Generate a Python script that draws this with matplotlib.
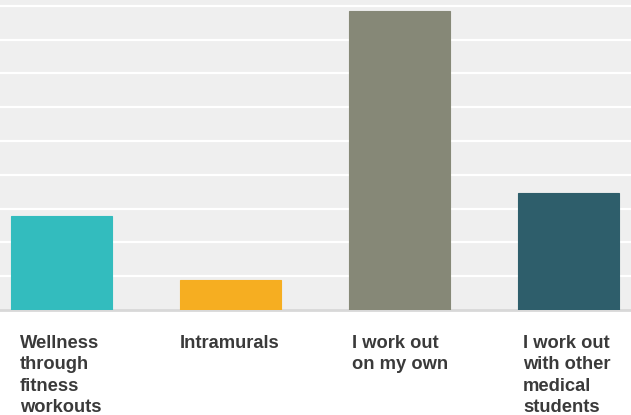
import matplotlib
matplotlib.use("Agg")
import matplotlib.pyplot as plt

categories = ["Wellness\nthrough\nfitness\nworkouts", "Intramurals",
              "I work out\non my own", "I work out\nwith other\nmedical\nstudents"]
values = [13.9, 4.5, 44.2, 17.35]
colors = ["#33BCBE", "#F6AE21", "#868877", "#2E5E6B"]
label_offsets = [-0.25, -0.30, -0.28, -0.27]

fig = plt.figure(figsize=(6.31, 4.15), dpi=100)
fig.patch.set_facecolor("white")
ax = fig.add_axes([0, 105 / 415, 1, 310 / 415])
ax.set_facecolor("#efefef")

x = list(range(len(categories)))
ax.bar(x, values, width=0.6, color=colors, edgecolor=[c for c in colors],
       linewidth=0.8, zorder=3)

ax.set_xlim(-0.366, 3.37)
ax.set_ylim(0, 45.86)
ax.set_yticks([5 * i for i in range(1, 10)])
ax.grid(axis="y", color="white", linewidth=1.6, zorder=1)
ax.tick_params(left=False, bottom=False, labelleft=False, labelbottom=False)
for s in ["top", "right", "left"]:
    ax.spines[s].set_visible(False)
ax.spines["bottom"].set_color("#d8d8d8")
ax.spines["bottom"].set_linewidth(2.0)

for xi, lab, off in zip(x, categories, label_offsets):
    ax.annotate(lab, xy=(xi + off, 0), xycoords="data", xytext=(0, -18),
                textcoords="offset points", ha="left", va="top",
                fontsize=13.2, fontweight="bold", color="#3a3a3a",
                family="Liberation Sans", linespacing=1.34, annotation_clip=False)

fig.savefig("out.png", dpi=100, facecolor="white")
